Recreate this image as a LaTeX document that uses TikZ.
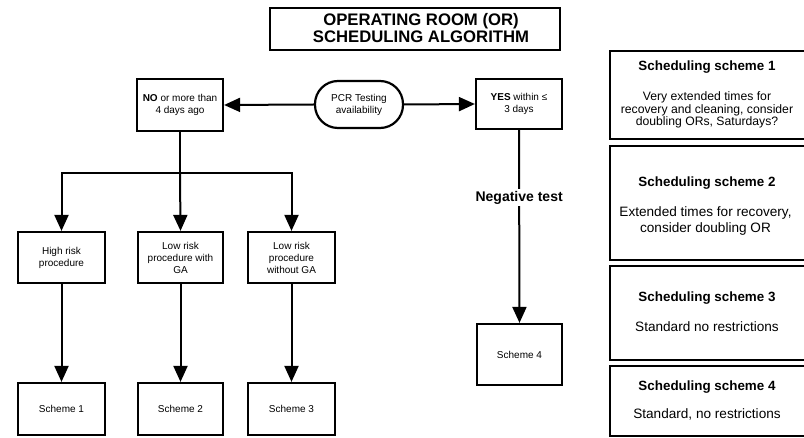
\documentclass[tikz,border=0pt]{standalone}
\usepackage{fontspec}
\setmainfont{Liberation Sans}
\usetikzlibrary{arrows.meta}
\begin{document}
\begin{tikzpicture}[x=1pt,y=-1pt,
  box/.style={draw,line width=2.2pt,align=center,inner sep=1pt,font=\fontsize{10}{12}\selectfont},
  sbox/.style={draw,line width=2.2pt,inner sep=0pt,minimum width=250pt},
  conn/.style={line width=2pt},
  arr/.style={line width=2pt,-{Triangle[length=16pt,width=14pt]}},
  hdr/.style={font=\fontsize{13.4}{15}\selectfont\bfseries,inner sep=0pt},
  body/.style={align=center,inner sep=0pt}
]
\useasboundingbox (0,0) rectangle (804,438);
% title
\node[box,minimum width=290pt,minimum height=42pt] (title) at (415,29) {};
\node[align=center,inner sep=0pt,font=\fontsize{16.7}{17}\selectfont\bfseries] (titletext) at (421,28.5) {OPERATING ROOM (OR)\\SCHEDULING ALGORITHM};
% top row
\node[box,minimum width=86pt,minimum height=52pt] (no) at (180,105) {\textbf{NO} or more than\\4 days ago};
\node[box,minimum width=88pt,minimum height=47pt,rounded corners=23pt] (pcr) at (359,104.5) {PCR Testing\\availability};
\node[box,minimum width=86pt,minimum height=50pt] (yes) at (519,104) {\textbf{YES} within ≤\\3 days};
% middle row
\node[box,minimum width=87pt,minimum height=51pt] (high) at (61.5,257.5) {High risk\\procedure};
\node[box,minimum width=85pt,minimum height=51pt] (lowga) at (180.5,257.5) {Low risk\\procedure with\\GA};
\node[box,minimum width=87pt,minimum height=51pt] (lownoga) at (291.5,257.5) {Low risk\\procedure\\without GA};
% bottom row
\node[box,minimum width=87pt,minimum height=52pt] (s1) at (61.5,409) {Scheme 1};
\node[box,minimum width=85pt,minimum height=52pt] (s2) at (180.5,409) {Scheme 2};
\node[box,minimum width=87pt,minimum height=52pt] (s3) at (291.5,409) {Scheme 3};
\node[box,minimum width=85pt,minimum height=61pt] (s4) at (519.5,354.5) {Scheme 4};
% connectors
\draw[arr] (pcr.west) -- (no.east);
\draw[arr] (pcr.east) -- (yes.west);
\coordinate (split) at (180,173);
\coordinate (splitl) at (61.5,173);
\coordinate (splitr) at (291.5,173);
\draw[conn] (no.south) -- (split);
\draw[conn,line cap=rect] (splitl) -- (splitr);
\draw[arr] (splitl) -- (high.north);
\draw[arr] (split) -- (lowga.north);
\draw[arr] (splitr) -- (lownoga.north);
\draw[arr] (high.south) -- (s1.north);
\draw[arr] (lowga.south) -- (s2.north);
\draw[arr] (lownoga.south) -- (s3.north);
\draw[arr] (yes.south) -- node[fill=white,inner sep=2pt,font=\fontsize{14}{16}\selectfont\bfseries,pos=0.35] (neg) {Negative test} (s4.north);
% scheduling schemes
\node[sbox,minimum height=88pt] (b1) at (735,95) {};
\node[sbox,minimum height=114pt] (b2) at (735,203) {};
\node[sbox,minimum height=94pt] (b3) at (735,313) {};
\node[sbox,minimum height=70pt] (b4) at (735,401) {};
\node[hdr] (h1) at (707,67) {Scheduling scheme 1};
\node[body,font=\fontsize{12.2}{12.5}\selectfont] (t1) at (707,110) {Very extended times for\\recovery and cleaning, consider\\doubling ORs, Saturdays?};
\node[hdr] (h2) at (707,183) {Scheduling scheme 2};
\node[body,font=\fontsize{13.6}{16}\selectfont] (t2) at (705.5,221) {Extended times for recovery,\\consider doubling OR};
\node[hdr] (h3) at (707,298) {Scheduling scheme 3};
\node[body,font=\fontsize{13.6}{15}\selectfont] (t3) at (707,327) {Standard no restrictions};
\node[hdr] (h4) at (707,387) {Scheduling scheme 4};
\node[body,font=\fontsize{13.6}{15}\selectfont] (t4) at (707,414) {Standard, no restrictions};
\end{tikzpicture}
\end{document}
